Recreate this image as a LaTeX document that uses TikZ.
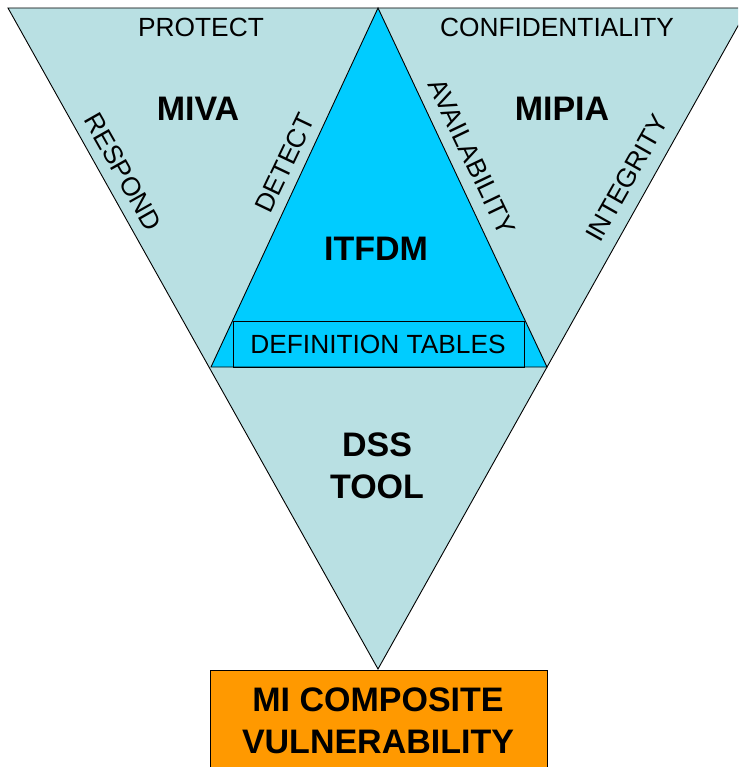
\documentclass[tikz,border=0pt]{standalone}
\usepackage{fontspec}
\setmainfont{Liberation Sans}
\usepackage{tikz}
\definecolor{paleblue}{HTML}{B9E0E3}
\definecolor{brightblue}{HTML}{00CCFF}
\definecolor{vulnorange}{HTML}{FF9900}
\begin{document}
\begin{tikzpicture}[x=1pt, y=-1pt,
        edge/.style = {draw=black, line width=.9pt, line join=miter},
        lbl/.style = {font=\fontsize{26.3}{31}\selectfont, inner sep=0},
        ttl/.style = {font=\bfseries\fontsize{34}{42}\selectfont, inner sep=0, align=center}]
        \clip (0, 0) rectangle (738, 767);
        % big funnel and inner triangle
        \filldraw[edge, fill=paleblue] (8, 8) -- (748, 8) -- (378, 669) -- cycle;
        \filldraw[edge, fill=brightblue] (378, 8) -- (211, 367) -- (547, 367) -- cycle;
        \draw[edge] (233, 321) rectangle (524, 367);
        \filldraw[edge, fill=vulnorange] (210, 670) rectangle (547, 800);
        % titles
        \node[ttl] (miva) at (198, 109) {MIVA};
        \node[ttl] (mipia) at (562, 109) {MIPIA};
        \node[ttl] (itfdm) at (376, 249) {ITFDM};
        \node[ttl] (dss) at (377, 466) {DSS\\TOOL};
        \node[ttl] (mivul) at (378, 721) {MI COMPOSITE\\VULNERABILITY};
        % edge labels
        \node[lbl] (protect) at (201, 27) {PROTECT};
        \node[lbl] (confid) at (557, 27) {CONFIDENTIALITY};
        \node[lbl, rotate=-60.5] (respond) at (123, 172) {RESPOND};
        \node[lbl, rotate=64.5] (detect) at (285, 163) {DETECT};
        \node[lbl, rotate=-64.5] (avail) at (472, 157) {AVAILABILITY};
        \node[lbl, rotate=60.5] (integ) at (627, 178) {INTEGRITY};
        \node[lbl] (deftab) at (378, 344) {DEFINITION TABLES};
\end{tikzpicture}
\end{document}
